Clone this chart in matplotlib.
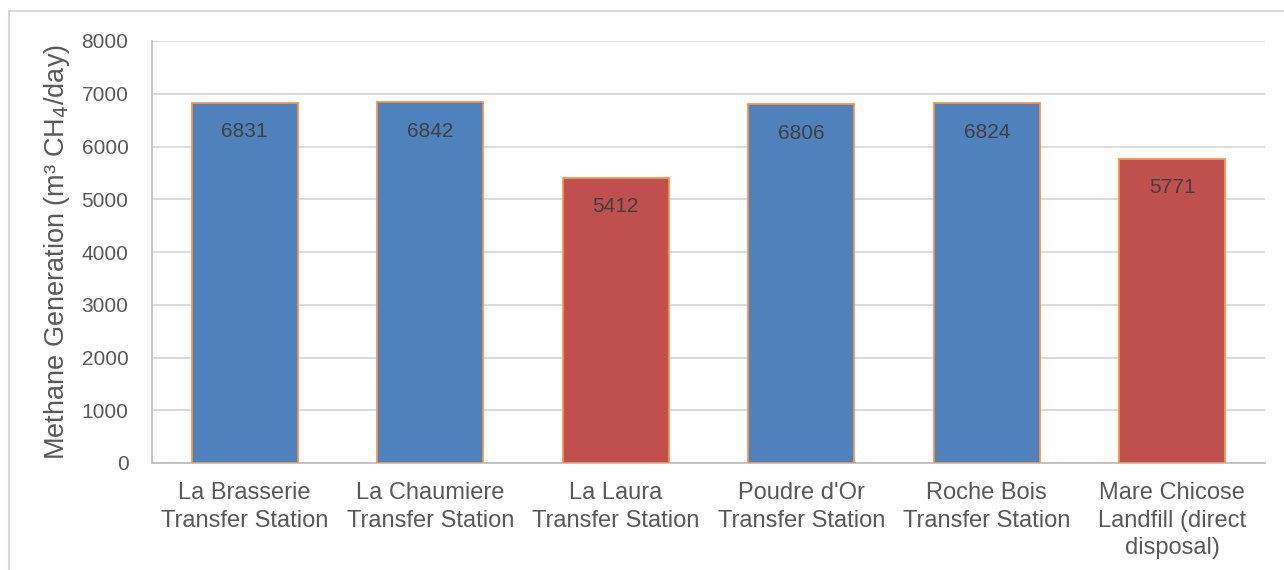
import matplotlib
matplotlib.use("Agg")
import matplotlib.pyplot as plt
from matplotlib.patches import Rectangle

categories = ["La Brasserie\nTransfer Station", "La Chaumiere\nTransfer Station",
              "La Laura\nTransfer Station", "Poudre d'Or\nTransfer Station",
              "Roche Bois\nTransfer Station", "Mare Chicose\nLandfill (direct\ndisposal)"]
values = [6831, 6842, 5412, 6806, 6824, 5771]
colors = ["#4F81BD", "#4F81BD", "#C0504D", "#4F81BD", "#4F81BD", "#C0504D"]
yticks = [0, 1000, 2000, 3000, 4000, 5000, 6000, 7000, 8000]

plt.rcParams['font.family'] = ['Liberation Sans', 'DejaVu Sans']

fig = plt.figure(figsize=(12.84, 5.70), dpi=100)
fig.patch.set_facecolor("white")
# outer chart border (cropped on right and bottom)
fig.patches.append(Rectangle((9 / 1284, -0.05), 1.1, 1 - 11 / 570 + 0.05,
                             transform=fig.transFigure, fill=False,
                             edgecolor="#D9D9D9", linewidth=1.5))

ax = fig.add_axes([152 / 1284, 1 - 463 / 570, (1265 - 152) / 1284, (463 - 41) / 570])
x = range(len(categories))
bars = ax.bar(x, values, width=0.57, color=colors, edgecolor="#F79646", linewidth=1.3, zorder=3)

for b, v in zip(bars, values):
    ax.annotate(f"{v}", (b.get_x() + b.get_width() / 2, v), xytext=(0, -21),
                textcoords="offset points", ha="center", va="center",
                fontsize=15, color="#404040", zorder=4)

ax.set_xlim(-0.5, len(categories) - 0.5)
ax.set_ylim(0, 8000)
ax.set_yticks(yticks)
ax.set_xticks(list(x))
ax.set_xticklabels(categories, fontsize=17, color="#595959", linespacing=1.3)
ax.tick_params(axis="y", labelsize=15, labelcolor="#595959", length=0, pad=17)
ax.tick_params(axis="x", length=0, pad=14)
ax.grid(axis="y", color="#D9D9D9", linewidth=1.3, zorder=0)

for s in ["top", "right"]:
    ax.spines[s].set_visible(False)
for s in ["left", "bottom"]:
    ax.spines[s].set_color("#BFBFBF")
    ax.spines[s].set_linewidth(1.3)

ax.set_ylabel("Methane Generation (m³ CH$_4$/day)", fontsize=19.5, color="#595959", labelpad=7)

fig.savefig("out.png", dpi=100)
